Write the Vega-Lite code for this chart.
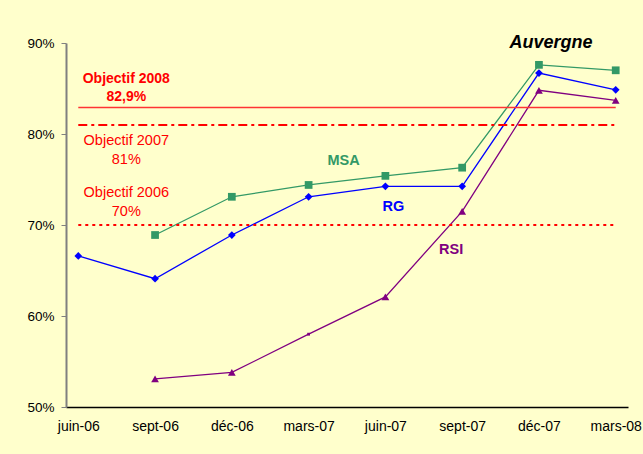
{
  "$schema": "https://vega.github.io/schema/vega-lite/v6.json",
  "autosize": "none",
  "width": 562,
  "height": 364,
  "padding": {"left": 66, "top": 43, "right": 15, "bottom": 47},
  "background": "#FFFFCC",
  "config": {
    "view": {"stroke": null},
    "font": "Liberation Sans",
    "text": {"font": "Liberation Sans"}
  },
  "datasets": {
    "series": [
      {"date": "juin-06", "serie": "RG", "value": 66.6},
      {"date": "sept-06", "serie": "RG", "value": 64.1},
      {"date": "déc-06", "serie": "RG", "value": 68.9},
      {"date": "mars-07", "serie": "RG", "value": 73.1},
      {"date": "juin-07", "serie": "RG", "value": 74.25},
      {"date": "sept-07", "serie": "RG", "value": 74.25},
      {"date": "déc-07", "serie": "RG", "value": 86.7},
      {"date": "mars-08", "serie": "RG", "value": 84.85},
      {"date": "sept-06", "serie": "MSA", "value": 68.9},
      {"date": "déc-06", "serie": "MSA", "value": 73.1},
      {"date": "mars-07", "serie": "MSA", "value": 74.4},
      {"date": "juin-07", "serie": "MSA", "value": 75.4},
      {"date": "sept-07", "serie": "MSA", "value": 76.3},
      {"date": "déc-07", "serie": "MSA", "value": 87.6},
      {"date": "mars-08", "serie": "MSA", "value": 87.0},
      {"date": "sept-06", "serie": "RSI", "value": 53.1},
      {"date": "déc-06", "serie": "RSI", "value": 53.8},
      {"date": "mars-07", "serie": "RSI", "value": 58.0},
      {"date": "juin-07", "serie": "RSI", "value": 62.1},
      {"date": "sept-07", "serie": "RSI", "value": 71.5},
      {"date": "déc-07", "serie": "RSI", "value": 84.8},
      {"date": "mars-08", "serie": "RSI", "value": 83.7}
    ],
    "objectifs": [
      {"name": "Objectif 2008", "value": 82.9, "start": "juin-06", "end": "mars-08"},
      {"name": "Objectif 2007", "value": 81, "start": "juin-06", "end": "mars-08"},
      {"name": "Objectif 2006", "value": 70, "start": "juin-06", "end": "mars-08"}
    ],
    "labels": [
      {"label": "Objectif 2008", "date": "juin-06", "value": 86.04},
      {"label": "82,9%", "date": "juin-06", "value": 84.07},
      {"label": "Objectif 2007", "date": "juin-06", "value": 79.23},
      {"label": "81%", "date": "juin-06", "value": 77.14},
      {"label": "Objectif 2006", "date": "juin-06", "value": 73.52},
      {"label": "70%", "date": "juin-06", "value": 71.43},
      {"label": "MSA", "date": "mars-07", "value": 77.03},
      {"label": "RG", "date": "juin-07", "value": 72.0},
      {"label": "RSI", "date": "sept-07", "value": 67.25},
      {"label": "Auvergne", "date": "déc-07", "value": 90}
    ]
  },
  "resolve": {"scale": {"x": "shared", "y": "shared"}},
  "layer": [
    {
      "data": {"name": "series"},
      "mark": {"type": "line", "strokeWidth": 1.3},
      "encoding": {
        "x": {
          "field": "date",
          "type": "ordinal",
          "sort": null,
          "scale": {"type": "point", "padding": 0.16, "domain": ["juin-06", "sept-06", "déc-06", "mars-07", "juin-07", "sept-07", "déc-07", "mars-08"]},
          "axis": {
            "title": null,
            "labelAngle": 0,
            "ticks": false,
            "labelPadding": 12,
            "labelFontSize": 14,
            "labelColor": "#000000",
            "domainColor": "#000000",
            "domainWidth": 1.5,
            "grid": false
          }
        },
        "y": {
          "field": "value",
          "type": "quantitative",
          "scale": {"domain": [50, 90], "nice": false, "zero": false},
          "axis": {
            "title": null,
            "values": [50, 60, 70, 80, 90],
            "labelExpr": "datum.value + '%'",
            "labelFontSize": 13.5,
            "labelColor": "#000000",
            "labelPadding": 7,
            "tickSize": 5,
            "tickColor": "#808080",
            "domainColor": "#808080",
            "domainWidth": 2,
            "grid": false
          }
        },
        "color": {
          "field": "serie",
          "type": "nominal",
          "scale": {"domain": ["RG", "MSA", "RSI"], "range": ["#0000FF", "#339966", "#800080"]},
          "legend": null
        },
        "order": {"value": null}
      }
    },
    {
      "data": {"name": "objectifs"},
      "transform": [{"filter": "datum.name == 'Objectif 2008'"}],
      "mark": {"type": "rule", "color": "#FF3333", "stroke": "#FF3333", "strokeWidth": 1.5},
      "encoding": {
        "x": {"field": "start", "type": "ordinal"},
        "x2": {"field": "end"},
        "y": {"field": "value", "type": "quantitative"}
      }
    },
    {
      "data": {"name": "objectifs"},
      "transform": [{"filter": "datum.name == 'Objectif 2007'"}],
      "mark": {"type": "rule", "stroke": "#FF0000", "strokeWidth": 2, "strokeDash": [9, 4, 3, 4]},
      "encoding": {
        "x": {"field": "start", "type": "ordinal"},
        "x2": {"field": "end"},
        "y": {"field": "value", "type": "quantitative"}
      }
    },
    {
      "data": {"name": "objectifs"},
      "transform": [{"filter": "datum.name == 'Objectif 2006'"}],
      "mark": {"type": "rule", "stroke": "#FF0000", "strokeWidth": 2, "strokeDash": [3, 4]},
      "encoding": {
        "x": {"field": "start", "type": "ordinal"},
        "x2": {"field": "end"},
        "y": {"field": "value", "type": "quantitative"}
      }
    },
    {
      "data": {"name": "series"},
      "transform": [{"filter": "!(datum.serie == 'RSI' && datum.date == 'mars-07')"}],
      "mark": {"type": "point", "filled": true, "opacity": 1, "size": 60},
      "encoding": {
        "x": {"field": "date", "type": "ordinal"},
        "y": {"field": "value", "type": "quantitative"},
        "color": {
          "field": "serie",
          "type": "nominal",
          "scale": {"domain": ["RG", "MSA", "RSI"], "range": ["#0000FF", "#339966", "#800080"]},
          "legend": null
        },
        "shape": {
          "field": "serie",
          "type": "nominal",
          "scale": {"domain": ["RG", "MSA", "RSI"], "range": ["diamond", "square", "triangle-up"]},
          "legend": null
        }
      }
    },
    {
      "data": {"name": "series"},
      "transform": [{"filter": "datum.serie == 'RSI' && datum.date == 'mars-07'"}],
      "mark": {"type": "point", "filled": true, "opacity": 1, "size": 8, "shape": "square", "fill": "#800080"},
      "encoding": {
        "x": {"field": "date", "type": "ordinal"},
        "y": {"field": "value", "type": "quantitative"}
      }
    },
    {
      "data": {"name": "labels"},
      "transform": [{"filter": "datum.label == 'Objectif 2008' || datum.label == '82,9%'"}],
      "mark": {"type": "text", "fill": "#FF0000", "fontWeight": "bold", "fontSize": 14, "dx": 48},
      "encoding": {
        "x": {"field": "date", "type": "ordinal"},
        "y": {"field": "value", "type": "quantitative"},
        "text": {"field": "label"}
      }
    },
    {
      "data": {"name": "labels"},
      "transform": [{"filter": "indexof(['Objectif 2007','81%','Objectif 2006','70%'], datum.label) >= 0"}],
      "mark": {"type": "text", "fill": "#FF0000", "fontSize": 14.5, "dx": 48},
      "encoding": {
        "x": {"field": "date", "type": "ordinal"},
        "y": {"field": "value", "type": "quantitative"},
        "text": {"field": "label"}
      }
    },
    {
      "data": {"name": "labels"},
      "transform": [{"filter": "datum.label == 'MSA'"}],
      "mark": {"type": "text", "fontWeight": "bold", "fontSize": 14.5, "dx": 35, "fill": "#339966"},
      "encoding": {
        "x": {"field": "date", "type": "ordinal"},
        "y": {"field": "value", "type": "quantitative"},
        "text": {"field": "label"}
      }
    },
    {
      "data": {"name": "labels"},
      "transform": [{"filter": "datum.label == 'RG'"}],
      "mark": {"type": "text", "fontWeight": "bold", "fontSize": 14.5, "dx": 8, "fill": "#0000FF"},
      "encoding": {
        "x": {"field": "date", "type": "ordinal"},
        "y": {"field": "value", "type": "quantitative"},
        "text": {"field": "label"}
      }
    },
    {
      "data": {"name": "labels"},
      "transform": [{"filter": "datum.label == 'RSI'"}],
      "mark": {"type": "text", "fontWeight": "bold", "fontSize": 14.5, "dx": -11, "fill": "#800080"},
      "encoding": {
        "x": {"field": "date", "type": "ordinal"},
        "y": {"field": "value", "type": "quantitative"},
        "text": {"field": "label"}
      }
    },
    {
      "data": {"name": "labels"},
      "transform": [{"filter": "datum.label == 'Auvergne'"}],
      "mark": {"type": "text", "fill": "#000000", "fontWeight": "bold", "fontStyle": "italic", "fontSize": 18, "dx": 12},
      "encoding": {
        "x": {"field": "date", "type": "ordinal"},
        "y": {"field": "value", "type": "quantitative"},
        "text": {"field": "label"}
      }
    }
  ]
}
